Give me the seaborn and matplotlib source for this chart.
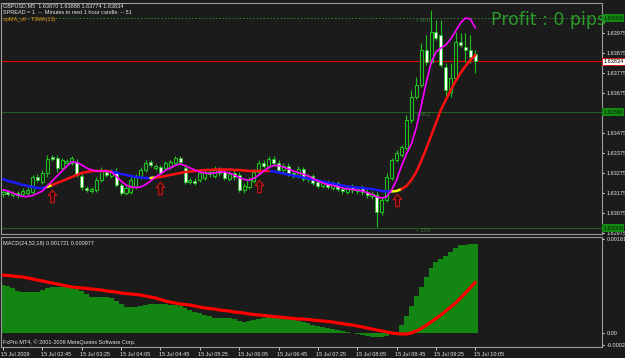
import numpy as np
import pandas as pd
import matplotlib
matplotlib.use("Agg")
import matplotlib.pyplot as plt
import matplotlib.transforms as mtransforms
from matplotlib.path import Path
import seaborn as sns

# ---------------- data (GBPUSD M5, 15 Jul 2009 02:05 .. 10:05) ----------------
opens = [1.63170, 1.63180, 1.63165, 1.63175, 1.63170, 1.63175, 1.63180, 1.63255, 1.63230, 1.63275,
         1.63355, 1.63350, 1.63300, 1.63325, 1.63325, 1.63330, 1.63260, 1.63200, 1.63185, 1.63190,
         1.63240, 1.63280, 1.63260, 1.63280, 1.63215, 1.63175, 1.63180, 1.63205, 1.63255, 1.63290,
         1.63330, 1.63300, 1.63305, 1.63300, 1.63305, 1.63325, 1.63350, 1.63300, 1.63230, 1.63235,
         1.63240, 1.63250, 1.63280, 1.63260, 1.63290, 1.63280, 1.63245, 1.63275, 1.63265, 1.63190,
         1.63205, 1.63235, 1.63280, 1.63325, 1.63310, 1.63345, 1.63325, 1.63290, 1.63310, 1.63275,
         1.63260, 1.63295, 1.63245, 1.63260, 1.63230, 1.63210, 1.63225, 1.63200, 1.63225, 1.63195,
         1.63180, 1.63205, 1.63185, 1.63200, 1.63180, 1.63160, 1.63165, 1.63080, 1.63140, 1.63250,
         1.63340, 1.63365, 1.63400, 1.63540, 1.63655, 1.63715, 1.63890, 1.63830, 1.63980, 1.63965,
         1.63805, 1.63680, 1.63750, 1.63930, 1.63905, 1.63890, 1.63870]
highs = [1.63190, 1.63190, 1.63185, 1.63185, 1.63200, 1.63205, 1.63265, 1.63270, 1.63290, 1.63365,
         1.63365, 1.63365, 1.63350, 1.63345, 1.63360, 1.63345, 1.63270, 1.63210, 1.63205, 1.63255,
         1.63305, 1.63295, 1.63295, 1.63300, 1.63225, 1.63210, 1.63260, 1.63270, 1.63305, 1.63340,
         1.63340, 1.63320, 1.63315, 1.63335, 1.63340, 1.63360, 1.63360, 1.63315, 1.63250, 1.63250,
         1.63285, 1.63295, 1.63290, 1.63310, 1.63305, 1.63295, 1.63285, 1.63290, 1.63280, 1.63225,
         1.63255, 1.63295, 1.63340, 1.63340, 1.63360, 1.63360, 1.63340, 1.63325, 1.63325, 1.63290,
         1.63310, 1.63305, 1.63270, 1.63270, 1.63245, 1.63235, 1.63240, 1.63235, 1.63235, 1.63210,
         1.63215, 1.63220, 1.63210, 1.63215, 1.63195, 1.63185, 1.63180, 1.63150, 1.63275, 1.63350,
         1.63390, 1.63415, 1.63565, 1.63690, 1.63755, 1.63925, 1.63965, 1.64090, 1.64040, 1.64040,
         1.63825, 1.63825, 1.63980, 1.63975, 1.63975, 1.63965, 1.63888]
lows = [1.63155, 1.63160, 1.63155, 1.63150, 1.63160, 1.63165, 1.63170, 1.63230, 1.63220, 1.63255,
        1.63335, 1.63280, 1.63290, 1.63315, 1.63315, 1.63255, 1.63190, 1.63180, 1.63175, 1.63180,
        1.63230, 1.63255, 1.63250, 1.63205, 1.63165, 1.63165, 1.63170, 1.63195, 1.63245, 1.63280,
        1.63305, 1.63290, 1.63265, 1.63290, 1.63295, 1.63315, 1.63320, 1.63220, 1.63220, 1.63215,
        1.63230, 1.63240, 1.63255, 1.63250, 1.63260, 1.63240, 1.63235, 1.63240, 1.63180, 1.63175,
        1.63195, 1.63225, 1.63270, 1.63300, 1.63300, 1.63310, 1.63275, 1.63275, 1.63260, 1.63250,
        1.63250, 1.63235, 1.63230, 1.63215, 1.63200, 1.63200, 1.63195, 1.63190, 1.63185, 1.63170,
        1.63170, 1.63175, 1.63170, 1.63165, 1.63150, 1.63145, 1.63005, 1.63065, 1.63130, 1.63240,
        1.63330, 1.63355, 1.63390, 1.63525, 1.63645, 1.63705, 1.63815, 1.63820, 1.63940, 1.63805,
        1.63655, 1.63655, 1.63740, 1.63905, 1.63830, 1.63825, 1.63774]
closes = [1.63180, 1.63170, 1.63175, 1.63165, 1.63185, 1.63190, 1.63255, 1.63240, 1.63275, 1.63345,
          1.63345, 1.63300, 1.63340, 1.63335, 1.63350, 1.63265, 1.63205, 1.63190, 1.63195, 1.63240,
          1.63290, 1.63265, 1.63280, 1.63215, 1.63175, 1.63200, 1.63240, 1.63255, 1.63290, 1.63325,
          1.63315, 1.63310, 1.63275, 1.63325, 1.63330, 1.63350, 1.63330, 1.63230, 1.63240, 1.63225,
          1.63275, 1.63280, 1.63270, 1.63290, 1.63275, 1.63250, 1.63270, 1.63255, 1.63190, 1.63210,
          1.63240, 1.63280, 1.63325, 1.63310, 1.63345, 1.63325, 1.63290, 1.63310, 1.63275, 1.63265,
          1.63295, 1.63245, 1.63260, 1.63225, 1.63210, 1.63225, 1.63205, 1.63225, 1.63195, 1.63185,
          1.63205, 1.63190, 1.63200, 1.63180, 1.63165, 1.63170, 1.63080, 1.63140, 1.63255, 1.63340,
          1.63375, 1.63405, 1.63540, 1.63655, 1.63715, 1.63890, 1.63830, 1.63980, 1.63950, 1.63815,
          1.63690, 1.63750, 1.63930, 1.63915, 1.63890, 1.63855, 1.63834]

# xpMA_v6 (slow MA, coloured by slope)
slow_ma = [1.63245, 1.63235, 1.63230, 1.632225, 1.63215, 1.63210, 1.63205, 1.63200, 1.63200, 1.63205,
           1.63215, 1.63225, 1.63235, 1.63245, 1.63255, 1.63265, 1.63275, 1.63280, 1.63285, 1.63285,
           1.63285, 1.63285, 1.632825, 1.632775, 1.63270, 1.63265, 1.63260, 1.63255, 1.632525, 1.63250,
           1.63250, 1.632525, 1.63255, 1.63260, 1.63265, 1.63270, 1.63275, 1.63280, 1.632825, 1.63285,
           1.632875, 1.63290, 1.63290, 1.632925, 1.632925, 1.632925, 1.632925, 1.63290, 1.63290, 1.632875,
           1.63285, 1.63285, 1.63285, 1.63285, 1.63285, 1.632825, 1.632775, 1.632725, 1.632675, 1.632625,
           1.632575, 1.632525, 1.632475, 1.632425, 1.632375, 1.632325, 1.632275, 1.632225, 1.632175, 1.632125,
           1.632075, 1.63205, 1.632025, 1.63200, 1.631975, 1.63195, 1.63190, 1.63185, 1.631825, 1.631825,
           1.63185, 1.63195, 1.63210, 1.63240, 1.63280, 1.63335, 1.63395, 1.63460, 1.63525, 1.63590,
           1.63640, 1.63690, 1.63735, 1.63775, 1.63810, 1.63840, 1.63865]
slow_trend = (['down'] * 9 + ['flat'] + ['up'] * 12 + ['down'] * 8 + ['flat'] + ['up'] * 23
              + ['down'] * 25 + ['flat'] * 2 + ['up'] * 16)

# T3MA(13)
t3ma = [1.63190, 1.63185, 1.63175, 1.63165, 1.631575, 1.631575, 1.631625, 1.631725, 1.63185, 1.63210,
        1.63235, 1.63260, 1.63285, 1.63310, 1.63330, 1.633275, 1.63315, 1.63300, 1.63290, 1.63285,
        1.63285, 1.63285, 1.63280, 1.63260, 1.63235, 1.63215, 1.63205, 1.632025, 1.63205, 1.632175,
        1.63235, 1.63255, 1.63270, 1.632875, 1.63300, 1.633125, 1.63320, 1.633125, 1.63300, 1.63290,
        1.63280, 1.63275, 1.632725, 1.63275, 1.63280, 1.63280, 1.63275, 1.63265, 1.632525, 1.632425,
        1.63240, 1.632475, 1.63265, 1.63285, 1.633025, 1.633125, 1.633125, 1.63305, 1.63295, 1.63285,
        1.632775, 1.63270, 1.63260, 1.632475, 1.63235, 1.63225, 1.632175, 1.632125, 1.632075, 1.63200,
        1.63195, 1.631925, 1.63190, 1.63185, 1.631775, 1.631675, 1.63155, 1.63150, 1.631575, 1.63190,
        1.63240, 1.63310, 1.63370, 1.63420, 1.63500, 1.63610, 1.63725, 1.63825, 1.63880, 1.63900,
        1.63915, 1.63945, 1.63985, 1.64025, 1.64050, 1.64045, 1.64000]

# buy arrows (bar index, price)
arrow_bars = [10, 32, 52, 80]
arrow_prices = [1.63160, 1.63200, 1.63210, 1.63140]

# MACD(24,52,18)
macd_hist = [0.000926, 0.000907, 0.000869, 0.000811, 0.000791, 0.000791, 0.000791, 0.000791, 0.000830, 0.000869,
             0.000888, 0.000888, 0.000888, 0.000888, 0.000888, 0.000849, 0.000811, 0.000753, 0.000695, 0.000695,
             0.000695, 0.000695, 0.000676, 0.000618, 0.000560, 0.000502, 0.000502, 0.000502, 0.000521, 0.000540,
             0.000560, 0.000560, 0.000560, 0.000560, 0.000540, 0.000540, 0.000521, 0.000483, 0.000444, 0.000405,
             0.000386, 0.000347, 0.000328, 0.000290, 0.000290, 0.000290, 0.000290, 0.000270, 0.000232, 0.000212,
             0.000232, 0.000251, 0.000270, 0.000290, 0.000309, 0.000309, 0.000309, 0.000309, 0.000290, 0.000251,
             0.000232, 0.000212, 0.000193, 0.000154, 0.000135, 0.000116, 0.000097, 0.000077, 0.000058, 0.000039,
             0.000019, 0.000000, -0.000019, -0.000039, -0.000058, -0.000077, -0.000077, -0.000077, -0.000058, -0.000019,
             0.000019, 0.000154, 0.000328, 0.000521, 0.000714, 0.000888, 0.001081, 0.001255, 0.001370, 0.001428,
             0.001486, 0.001563, 0.001641, 0.001690, 0.001700, 0.001715, 0.001721]
macd_signal = [0.001119, 0.001110, 0.001100, 0.001090, 0.001081, 0.001062, 0.001042, 0.001023, 0.001004, 0.000984,
               0.000965, 0.000946, 0.000926, 0.000907, 0.000888, 0.000878, 0.000869, 0.000859, 0.000849, 0.000840,
               0.000830, 0.000811, 0.000801, 0.000791, 0.000772, 0.000762, 0.000753, 0.000743, 0.000733, 0.000714,
               0.000695, 0.000676, 0.000647, 0.000618, 0.000598, 0.000579, 0.000560, 0.000550, 0.000540, 0.000521,
               0.000502, 0.000483, 0.000473, 0.000463, 0.000444, 0.000434, 0.000425, 0.000405, 0.000396, 0.000386,
               0.000367, 0.000357, 0.000347, 0.000338, 0.000328, 0.000318, 0.000309, 0.000299, 0.000290, 0.000280,
               0.000270, 0.000270, 0.000261, 0.000251, 0.000241, 0.000232, 0.000222, 0.000212, 0.000193, 0.000183,
               0.000164, 0.000154, 0.000135, 0.000116, 0.000097, 0.000077, 0.000058, 0.000039, 0.000019, 0.000000,
               -0.000010, -0.000019, -0.000019, 0.000000, 0.000039, 0.000087, 0.000145, 0.000212, 0.000280, 0.000347,
               0.000425, 0.000502, 0.000579, 0.000676, 0.000772, 0.000878, 0.000977]

price_ticks = [1.63975, 1.63875, 1.63775, 1.63675, 1.63475, 1.63375, 1.63275, 1.63175, 1.63075, 1.62975]
macd_ticks = [0.001815, 0.0, -0.00024]
macd_tick_labels = ["0.001815", "0.00", "-0.00024"]
time_tick_bars = [0, 8, 16, 24, 32, 40, 48, 56, 64, 72, 80, 88, 96]
time_tick_labels = ["15 Jul 2009", "15 Jul 02:45", "15 Jul 03:25", "15 Jul 04:05", "15 Jul 04:45",
                    "15 Jul 05:25", "15 Jul 06:05", "15 Jul 06:45", "15 Jul 07:25", "15 Jul 08:05",
                    "15 Jul 08:45", "15 Jul 09:25", "15 Jul 10:05"]
level_prices = [1.64050, 1.63580, 1.63000]
level_tags = ["+ 50.0", "+ 38.2", "+ 23.6"]
last_price = 1.63834

# ---------------- style ----------------
BG = "#1b1b1b"
GREEN = "#1fbf1f"
FRAME = "#9c9c9c"
TXT = "#e4e4e4"
sns.set_theme(style="dark", rc={
    "axes.facecolor": BG, "figure.facecolor": BG, "axes.edgecolor": FRAME,
    "axes.grid": False, "text.color": TXT, "xtick.color": TXT, "ytick.color": TXT,
    "axes.linewidth": 0.8,
})
plt.rcParams["font.family"] = ["Liberation Sans", "DejaVu Sans"]
SMALL = 4.0

W, H = 625, 358
fig = plt.figure(figsize=(W / 100, H / 100), dpi=100)


def fx(px):
    return px / W


def fy(py):
    return 1 - py / H


ax = fig.add_axes([fx(1), fy(234), fx(602) - fx(1), fy(3) - fy(234)])
ax2 = fig.add_axes([fx(1), fy(347), fx(602) - fx(1), fy(237) - fy(347)])

n = len(opens)
idx = np.arange(n)
o = np.array(opens); h = np.array(highs); l = np.array(lows); c = np.array(closes)
bull = c >= o

# candles
ax.vlines(idx, l, h, color=GREEN, lw=0.8, zorder=2)
body_lo = np.minimum(o, c)
body_h = np.maximum(np.abs(c - o), 0.00002)
ax.bar(idx[bull], body_h[bull], bottom=body_lo[bull], width=0.62, color=BG,
       edgecolor=GREEN, lw=0.8, zorder=2)
ax.bar(idx[~bull], body_h[~bull], bottom=body_lo[~bull], width=0.62, color="#ffffff",
       edgecolor=GREEN, lw=0.6, zorder=2)

# horizontal levels
ax.axhline(level_prices[0], color="#2f8a2f", lw=0.7, ls=(0, (1.5, 2)), zorder=1)
ax.axhline(level_prices[1], color="#1f5f1f", lw=0.8, zorder=1)
ax.axhline(level_prices[2], color="#1f5f1f", lw=0.8, zorder=1)
ax.axhline(last_price, color="#e00000", lw=0.8, zorder=1)
for p, t in zip(level_prices, level_tags):
    ax.text(84, p, t, color="#3c7d3c", fontsize=3.6, va="top", ha="left", zorder=1)

# slow MA coloured by trend, via seaborn
runs = []
start = 0
for i in range(1, n + 1):
    if i == n or slow_trend[i] != slow_trend[start]:
        runs.append((start, i - 1))
        start = i
rows = []
for k, (a, b) in enumerate(runs):
    end = min(b + 1, n - 1)
    for j in range(a, end + 1):
        rows.append({"bar": j, "ma": slow_ma[j], "trend": slow_trend[a], "seg": k})
ma_df = pd.DataFrame(rows)
sns.lineplot(data=ma_df, x="bar", y="ma", hue="trend", units="seg", estimator=None,
             palette={"down": "#1a1aff", "up": "#ff1010", "flat": "#ffff00"},
             lw=1.8, legend=False, sort=False, ax=ax, zorder=3)

# T3MA
t3_df = pd.DataFrame({"bar": idx, "t3": t3ma})
sns.lineplot(data=t3_df, x="bar", y="t3", color="#ff00ff", lw=1.2, ax=ax, zorder=4)

# arrows
arrow_path = Path([(0, 1), (0.7, 0.15), (0.3, 0.15), (0.3, -1), (-0.3, -1), (-0.3, 0.15),
                   (-0.7, 0.15), (0, 1), (0, 1)],
                  [Path.MOVETO] + [Path.LINETO] * 7 + [Path.CLOSEPOLY])
ax.scatter(arrow_bars, arrow_prices, marker=arrow_path, s=80, facecolor="#3a0c0c",
           edgecolor="#c81818", lw=0.8, zorder=5)

ax.set_xlim(-0.4065, 121.75)
ax.set_ylim(1.62970, 1.64125)
ax.set_xticks([])
ax.set_xlabel("")
ax.set_ylabel("")
ax.yaxis.tick_right()
ax.set_yticks(price_ticks)
ax.set_yticklabels([f"{v:.5f}" for v in price_ticks])
ax.tick_params(axis="y", which="both", right=True, left=False, labelright=True, labelleft=False,
               length=1.5, width=0.8, pad=2, labelsize=SMALL, colors=TXT)

# price boxes on the right scale
tr = ax.get_yaxis_transform()
for p in level_prices:
    ax.text(1.002, p, f"{p:.5f}", transform=tr, fontsize=SMALL, color="#052005", va="center",
            ha="left", bbox=dict(facecolor="#138a13", edgecolor="none", pad=0.8), zorder=6)
ax.text(1.002, last_price, f"{last_price:.5f}", transform=tr, fontsize=SMALL, color="#000000",
        va="center", ha="left", bbox=dict(facecolor="#ffffff", edgecolor="#e00000", lw=0.6, pad=0.8),
        zorder=7)

# MACD panel
ax2.bar(idx, macd_hist, width=1.0, color="#128512", lw=0, zorder=2)
sig_df = pd.DataFrame({"bar": idx, "signal": macd_signal})
sns.lineplot(data=sig_df, x="bar", y="signal", color="#ff0000", lw=2.3, ax=ax2, zorder=3)
ax2.set_xlim(-0.4065, 121.75)
ax2.set_ylim(-0.00027, 0.001853)
ax2.set_xlabel("")
ax2.set_ylabel("")
ax2.yaxis.tick_right()
ax2.set_yticks(macd_ticks)
ax2.set_yticklabels(macd_tick_labels)
ax2.tick_params(axis="y", right=True, left=False, labelright=True, labelleft=False,
                length=1.5, width=0.8, pad=2, labelsize=SMALL, colors=TXT)
ax2.set_xticks(time_tick_bars)
ax2.set_xticklabels(time_tick_labels)
ax2.tick_params(axis="x", bottom=True, length=2, width=0.6, pad=1.5, labelsize=SMALL, colors=TXT)
offset = mtransforms.ScaledTranslation(-1.5 / 100, 0, fig.dpi_scale_trans)
for lab in ax2.get_xticklabels():
    lab.set_horizontalalignment("left")
    lab.set_transform(lab.get_transform() + offset)

for a in (ax, ax2):
    for s in a.spines.values():
        s.set_color(FRAME)
        s.set_linewidth(0.8)

# texts
fig.text(fx(3), fy(6), "GBPUSD,M5  1.63870 1.63888 1.63774 1.63834", fontsize=SMALL, color=TXT, va="center")
fig.text(fx(3), fy(12.5), "SPREAD = 1  --  Minutes to next 1 hour candle  -- 51", fontsize=SMALL,
         color=TXT, va="center")
fig.text(fx(3), fy(19), "xpMA_v6 - T3MA(13)", fontsize=SMALL, color="#e8921c", va="center")
fig.text(fx(3), fy(243.5), "MACD(24,52,18) 0.001721 0.000977", fontsize=SMALL, color=TXT, va="center")
fig.text(fx(3), fy(342.5), "FxPro MT4, \u00a9 2001-2009 MetaQuotes Software Corp.", fontsize=SMALL,
         color=TXT, va="center")
fig.text(fx(491), fy(25), "Profit : 0 pips", fontsize=12.5, color="#2a9a2a", va="baseline",
         family="DejaVu Sans")

fig.savefig("out.png", dpi=100, facecolor=BG)
